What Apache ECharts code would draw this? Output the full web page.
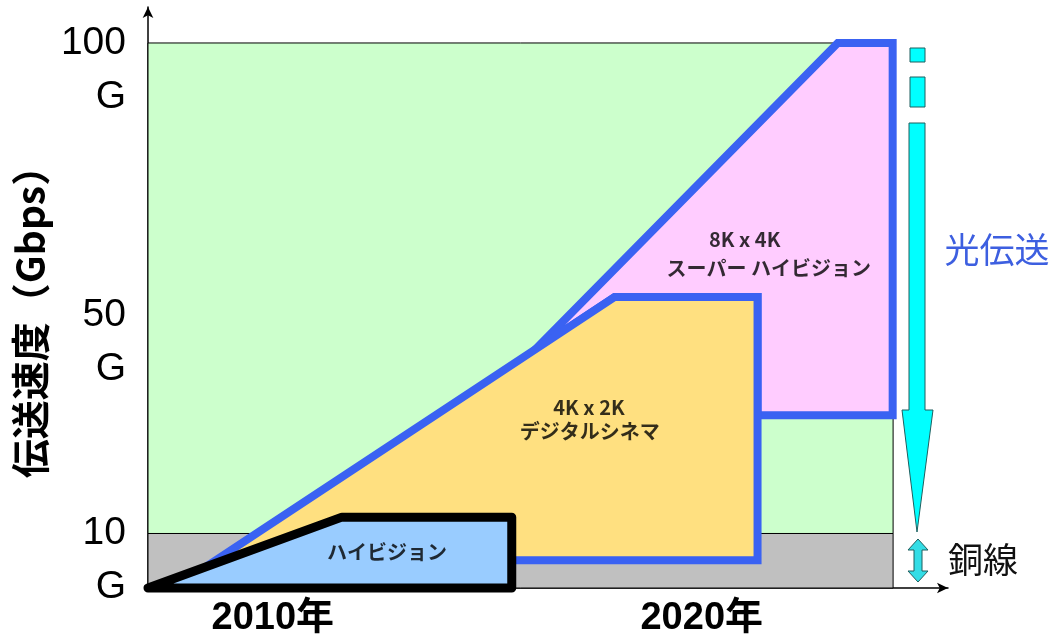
<!DOCTYPE html>
<html>
<head>
<meta charset="utf-8">
<script src="https://cdn.jsdelivr.net/npm/echarts@6/dist/echarts.min.js"></script>
<style>
  html, body { margin: 0; padding: 0; background: #fff; }
  #main { width: 1056px; height: 644px; }
</style>
</head>
<body>
<div id="main"></div>
<script>
// 軸の範囲（年・Gbps）
const xMin = 2007.65;
const xMax = 2026.3;
const yMax = 106.6;
const xEnd = 2025.02;

// 目盛り
const xTickValues = [2010, 2015, 2020];
const xLabelValues = [2010, 2020];
const yTickValues = [0, 10, 20, 30, 40, 50, 60, 70, 80, 90, 100];
const yLabelValues = [5, 45, 95];
const yLabelTexts = ['10\nG', '50\nG', '100\nG'];

// 背景帯 [年, Gbps]
const copperBand = [[xMin, 0], [xEnd, 0], [xEnd, 10], [xMin, 10]];
const opticalBand = [[xMin, 10], [xEnd, 10], [xEnd, 100], [xMin, 100]];

// 各方式の領域 [年, Gbps]
const hiVision = [[2007.65, 0], [2012.17, 13.0], [2016.13, 13.0], [2016.13, 0]];
const cinema4K = [[2008.75, 2.6], [2018.53, 53.4], [2021.86, 53.4], [2021.86, 5.1], [2015.62, 5.1]];
const superHiVision = [[2016.67, 43.7], [2023.73, 100], [2025.01, 100], [2025.01, 31.7],
                       [2021.86, 31.7], [2021.86, 53.4], [2018.53, 53.4]];

// 領域内の文字 [年, Gbps]
const areaLabels = [
  { name: 'ハイビジョン', value: [2013.22, 6.6] },
  { name: '4K x 2K', value: [2017.93, 33.2] },
  { name: 'デジタルシネマ', value: [2017.95, 28.8] },
  { name: '8K x 4K', value: [2021.56, 63.9] },
  { name: 'スーパー ハイビジョン', value: [2022.12, 58.7] }
];

const cjk = "'Noto Sans CJK JP', sans-serif";
const latin = "'Liberation Sans', 'Noto Sans CJK JP', sans-serif";

//多角形を描くcustomシリーズ
const polygonSeries = (points, fill, stroke, width, z, join) => ({
  type: 'custom',
  coordinateSystem: 'cartesian2d',
  data: points,
  z: z,
  silent: true,
  renderItem: (params, api) => {
    if (params.dataIndex !== 0) return;
    const pts = points.map(p => api.coord(p));
    return {
      type: 'polygon',
      shape: { points: pts },
      style: { fill: fill, stroke: stroke, lineWidth: width, lineJoin: join || 'miter' }
    };
  }
});

const chart = echarts.init(document.getElementById('main'));

const option = {
  animation: false,
  grid: { left: 148, right: 108, top: 7, bottom: 56 },
  xAxis: {
    type: 'value',
    min: xMin,
    max: xMax,
    splitLine: { show: false },
    axisLine: {
      show: true,
      lineStyle: { color: '#000', width: 1.5 },
      symbol: ['none', 'arrow'],
      symbolSize: [8, 11]
    },
    axisTick: {
      show: true,
      inside: true,
      length: 8,
      customValues: xTickValues,
      lineStyle: { color: '#000', width: 1 }
    },
    axisLabel: {
      customValues: xLabelValues,
      formatter: v => Math.round(v) + '年',
      fontFamily: latin,
      fontWeight: 'bold',
      fontSize: 38,
      color: '#000',
      margin: 12,
      padding: [0, 0, 0, 48]
    }
  },
  yAxis: {
    type: 'value',
    min: 0,
    max: yMax,
    splitLine: { show: false },
    name: '伝送速度（Gbps）',
    nameLocation: 'middle',
    nameRotate: 90,
    nameGap: 93,
    nameTextStyle: {
      fontFamily: cjk,
      fontWeight: 'bold',
      fontSize: 39,
      color: '#000',
      padding: [0, 30, 0, 0]
    },
    axisLine: {
      show: true,
      lineStyle: { color: '#000', width: 1.5 },
      symbol: ['none', 'arrow'],
      symbolSize: [8, 11]
    },
    axisTick: {
      show: true,
      inside: true,
      length: 8,
      customValues: yTickValues,
      lineStyle: { color: '#000', width: 1 }
    },
    axisLabel: {
      customValues: yLabelValues,
      formatter: v => yLabelTexts[yLabelValues.indexOf(v)] || '',
      fontFamily: latin,
      fontSize: 39,
      lineHeight: 54,
      color: '#000',
      align: 'right',
      margin: 22
    }
  },
  series: [
    polygonSeries(copperBand, '#c0c0c0', '#000', 1, 1),
    polygonSeries(opticalBand, '#ccffcc', '#000', 1, 1),
    polygonSeries(superHiVision, '#ffccff', '#3a62f2', 8, 2),
    polygonSeries(cinema4K, '#ffe080', '#3a62f2', 8, 3),
    polygonSeries(hiVision, '#99ccff', '#000', 9, 4, 'round'),
    {
      type: 'scatter',
      data: areaLabels,
      symbolSize: 0,
      z: 5,
      silent: true,
      label: {
        show: true,
        position: 'inside',
        formatter: '{b}',
        fontFamily: cjk,
        fontWeight: 'bold',
        fontSize: 20,
        color: '#000'
      }
    }
  ],
  graphic: [
    // 光伝送の矢印
    { type: 'rect', shape: { x: 910, y: 48, width: 15, height: 14 },
      style: { fill: '#00ffff', stroke: '#1f5f5f', lineWidth: 1 } },
    { type: 'rect', shape: { x: 910, y: 77, width: 15, height: 30 },
      style: { fill: '#00ffff', stroke: '#1f5f5f', lineWidth: 1 } },
    { type: 'polygon',
      shape: { points: [[909, 123], [925, 123], [925, 410], [933, 410], [917, 532], [902, 410], [909, 410]] },
      style: { fill: '#00ffff', stroke: '#1f5f5f', lineWidth: 1 } },
    { type: 'text', x: 997, y: 250,
      style: { text: '光伝送', fontFamily: cjk, fontSize: 35, fill: '#3d5fe0', align: 'center', verticalAlign: 'middle' } },
    // 銅線の矢印
    { type: 'polygon',
      shape: { points: [[918, 539], [928, 550], [922, 550], [922, 571], [928, 571], [918, 582],
                        [908, 571], [914, 571], [914, 550], [908, 550]] },
      style: { fill: '#33dde6', stroke: '#1f5f5f', lineWidth: 1 } },
    { type: 'text', x: 983, y: 560,
      style: { text: '銅線', fontFamily: cjk, fontSize: 35, fill: '#111', align: 'center', verticalAlign: 'middle' } }
  ]
};

chart.setOption(option);
</script>
</body>
</html>
